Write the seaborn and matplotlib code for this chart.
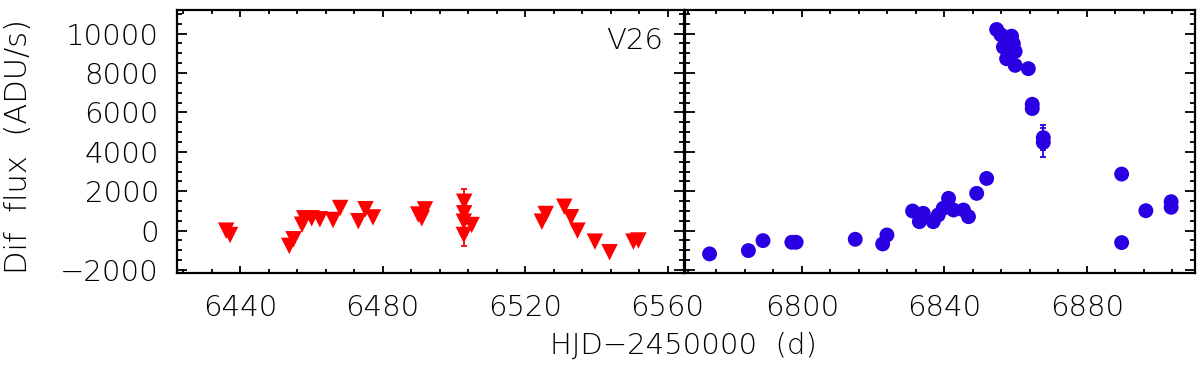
import numpy as np
import pandas as pd
import matplotlib
matplotlib.use("Agg")
import matplotlib.pyplot as plt
import seaborn as sns
from matplotlib.ticker import MultipleLocator
from matplotlib import font_manager

# ---------------- data ----------------
left_hjd = [6436.1, 6437.2, 6453.8, 6455.0, 6457.4, 6458.0, 6460.1, 6462.4,
            6466.1, 6468.1, 6473.2, 6475.2, 6477.3, 6490.0, 6491.0, 6491.9,
            6502.9, 6502.9, 6502.8, 6505.0, 6502.8, 6524.7, 6525.8, 6531.0,
            6532.9, 6534.7, 6539.6, 6543.7, 6550.4, 6551.8]
left_flux = [0, -220, -775, -437, 300, 627, 627, 577,
             540, 1150, 480, 1090, 670, 820, 627, 1080,
             1468, 880, 456, 287, -218, 456, 845, 1215,
             680, 0, -557, -1094, -557, -500]
left_err_hjd = [6502.9, 6502.8]
left_err_flux = [1468, -218]
left_err = [630, 560]

right_hjd = [6774.1, 6785.0, 6789.1, 6797.2, 6798.4, 6815.0, 6822.7, 6823.9,
             6831.1, 6834.1, 6833.0, 6836.9, 6838.3, 6839.7, 6841.2, 6842.6,
             6845.4, 6846.8, 6849.1, 6851.9,
             6854.7, 6855.9, 6858.9, 6856.6, 6859.4, 6859.9, 6857.5, 6859.9,
             6863.6, 6864.7, 6864.7, 6867.8, 6867.8,
             6889.8, 6889.8, 6896.6, 6903.7, 6903.7]
right_flux = [-1180, -1012, -506, -590, -590, -438, -675, -220,
              997, 880, 456, 456, 795, 1134, 1640, 1048,
              1048, 709, 1892, 2650,
              10212, 9943, 9873, 9316, 9488, 9098, 8729, 8390,
              8222, 6415, 6197, 4720, 4480,
              2871, -607, 1013, 1469, 1185]
right_err_hjd = [6867.8, 6867.8]
right_err_flux = [4720, 4480]
right_err = [630, 730]

xticks_left = [6440, 6480, 6520, 6560]
xticks_right = [6800, 6840, 6880]
yticks = [-2000, 0, 2000, 4000, 6000, 8000, 10000]

red = "#ff0000"
blue = "#2a00e2"

# ---------------- style ----------------
sns.set_style("ticks")
plt.rcParams["font.family"] = ["DejaVu Sans"]
FS = 21
# use a lighter weight if the installed DejaVu set offers one
weights = {f.weight for f in font_manager.fontManager.ttflist if f.name == "DejaVu Sans"}
WT = "light" if any(w in (200, 300, "light", "extra-light") for w in weights) else "normal"
plt.rcParams["font.weight"] = WT
TXT = "black"

fig = plt.figure(figsize=(12, 3.72), dpi=100)
W, H = 1200, 372
def rect(x0, y0, x1, y1):
    return [x0 / W, 1 - y1 / H, (x1 - x0) / W, (y1 - y0) / H]

axL = fig.add_axes(rect(177, 10, 684, 273))
axR = fig.add_axes(rect(685, 10, 1195, 273))

dfL = pd.DataFrame({"hjd": left_hjd, "flux": left_flux})
dfR = pd.DataFrame({"hjd": right_hjd, "flux": right_flux})

axL.errorbar(left_err_hjd, left_err_flux, yerr=left_err, fmt="none",
             ecolor=red, elinewidth=1.3, capsize=2.2, capthick=1.3, zorder=2)
sns.scatterplot(data=dfL, x="hjd", y="flux", ax=axL, marker="v", s=140,
                color=red, edgecolor="none", linewidth=0, zorder=3, legend=False)

axR.errorbar(right_err_hjd, right_err_flux, yerr=right_err, fmt="none",
             ecolor=blue, elinewidth=1.3, capsize=2.2, capthick=1.3, zorder=2)
sns.scatterplot(data=dfR, x="hjd", y="flux", ax=axR, marker="o", s=115,
                color=blue, edgecolor="none", linewidth=0, zorder=3, legend=False)

axL.set_xlim(6422.3, 6564.6)
axR.set_xlim(6767.2, 6910.4)
for ax in (axL, axR):
    ax.set_ylim(-2150, 11200)
    ax.set_xlabel("")
    ax.set_ylabel("")
    ax.yaxis.set_major_locator(MultipleLocator(2000))
    ax.yaxis.set_minor_locator(MultipleLocator(500))
    ax.xaxis.set_major_locator(MultipleLocator(40))
    ax.xaxis.set_minor_locator(MultipleLocator(8))
    for sp in ax.spines.values():
        sp.set_visible(True)
        sp.set_linewidth(1.6)
        sp.set_color("black")
    ax.tick_params(axis="both", which="both", direction="in", top=True,
                   right=True, bottom=True, left=True, color="black",
                   width=1.3, labelsize=FS, labelcolor=TXT)
    ax.tick_params(axis="y", which="major", length=7.5, pad=13)
    ax.tick_params(axis="y", which="minor", length=3.8)
    ax.tick_params(axis="x", which="major", length=5, pad=15)
    ax.tick_params(axis="x", which="minor", length=2.8)

axL.set_xticks(xticks_left)
axL.set_xticklabels([str(t) for t in xticks_left])
axL.set_yticks(yticks)
axL.set_yticklabels([str(t).replace("-", "\u2212") for t in yticks])
axR.set_xticks(xticks_right)
axR.set_xticklabels([str(t) for t in xticks_right])
axR.set_yticks(yticks)
axR.tick_params(axis="y", which="both", labelleft=False)

axL.text(0.9586, 0.882, "V26", transform=axL.transAxes, ha="right",
         va="center", fontsize=FS, color=TXT)

fig.text(683 / W, 1 - 346 / H, "HJD\u22122450000  (d)", ha="center",
         va="center", fontsize=FS, color=TXT)
fig.text(19 / W, 1 - 147 / H, "Dif  flux  (ADU/s)", ha="center",
         va="center", rotation=90, fontsize=22, color=TXT)

fig.savefig("out.png", dpi=100)
